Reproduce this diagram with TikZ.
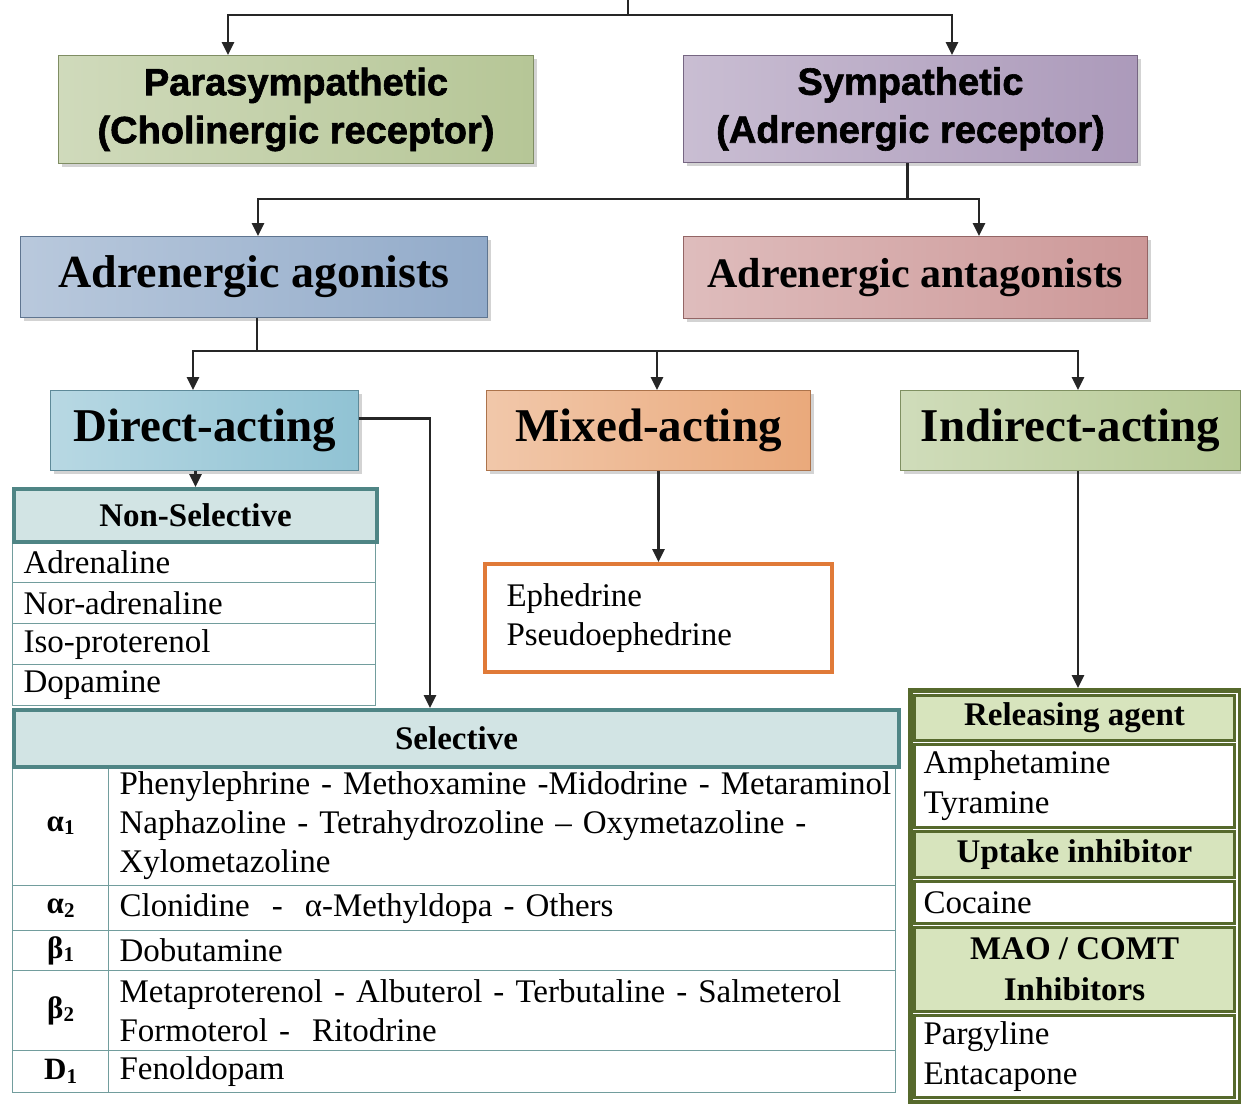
\documentclass[tikz,border=0pt]{standalone}
\usepackage{fontspec}
\setmainfont{Liberation Serif}
\newfontfamily\headsans[BoldFeatures={FakeBold=1.6}]{Liberation Sans}
\usetikzlibrary{arrows.meta,shadows}
\definecolor{cPara} {HTML}{A9BC84}
\definecolor{cSymp} {HTML}{9D88AE}
\definecolor{cAgon} {HTML}{7F9CC0}
\definecolor{cAnta} {HTML}{C48686}
\definecolor{cDir}  {HTML}{7DB8CC}
\definecolor{cMix}  {HTML}{E69A64}
\definecolor{cInd}  {HTML}{A9C082}
\definecolor{cTeal} {HTML}{4F8585}
\definecolor{cTealF}{HTML}{D2E4E4}
\definecolor{cOlive}{HTML}{56692C}
\definecolor{cOlivF}{HTML}{D7E4BD}
\definecolor{cOrng} {HTML}{E07A38}
\newcommand{\subidx}[1]{\raisebox{-0.25ex}{\fontsize{21}{21}\selectfont#1}}
\tikzset{
  grad/.style   ={draw=#1!75!black,line width=1pt,left color=#1!55,middle color=#1!12,
                  right color=#1!85,anchor=north west,inner sep=0pt,align=center,
                  drop shadow={opacity=0.35,shadow xshift=3pt,shadow yshift=-3pt}},
  sysbox/.style ={grad=#1,font=\headsans\bfseries\fontsize{38}{48}\selectfont},
  actbox/.style ={grad=#1,font=\bfseries\fontsize{47}{52}\selectfont},
  cell/.style   ={draw=cTeal!80,line width=1.2pt,anchor=north west,inner ysep=0pt,
                  font=\fontsize{33}{39}\selectfont},
  txtcell/.style={cell,align=left,inner xsep=11pt},
  tealhd/.style ={cell,draw=cTeal,line width=4pt,fill=cTealF,
                  font=\bfseries\fontsize{33}{39}\selectfont},
  olvhd/.style  ={draw=cOlive,line width=3pt,fill=cOlivF,anchor=north west,inner sep=0pt,
                  minimum width=320pt,align=center,font=\bfseries\fontsize{33}{41}\selectfont},
  olvcell/.style={draw=cOlive,line width=3pt,fill=white,anchor=north west,inner xsep=9pt,
                  inner ysep=0pt,text width=302pt,align=left,font=\fontsize{33}{40}\selectfont},
  link/.style   ={draw=black!85,line width=2.6pt},
  feed/.style   ={link,-{Triangle[length=13pt,width=12pt]}},
}

\begin{document}
\begin{tikzpicture}[x=1pt,y=-1pt]
\useasboundingbox (0,0) rectangle (1241,1103);

% ---- receptor split ------------------------------------------------------
\node[sysbox=cPara,minimum width=475pt,minimum height=108pt] (para) at (58,55)
  {Parasympathetic\\(Cholinergic receptor)};
\node[sysbox=cSymp,minimum width=454pt,minimum height=107pt] (symp) at (683,55)
  {Sympathetic\\(Adrenergic receptor)};

\coordinate (root)   at (628,0);
\coordinate (split1) at (628,15);
\draw[link] (root) -- (split1);
\draw[feed] (split1) -| ([xshift=170pt]para.north west);
\draw[feed] (split1) -| ([xshift=269pt]symp.north west);

% ---- agonists / antagonists ----------------------------------------------
\node[actbox=cAgon,minimum width=467pt,minimum height=81pt,
      font=\bfseries\fontsize{46}{50}\selectfont] (agon) at (20,236) {Adrenergic agonists};
\node[actbox=cAnta,minimum width=464pt,minimum height=82pt,
      font=\bfseries\fontsize{42}{46}\selectfont] (anta) at (683,236) {Adrenergic antagonists};

\draw[link] ([xshift=-3pt]symp.south) -- ++(0,36) coordinate (split2);
\draw[feed] (split2) -| ([xshift=238pt]agon.north west);
\draw[feed] (split2) -| ([xshift=296pt]anta.north west);

% ---- mode of action ------------------------------------------------------
\node[actbox=cDir,minimum width=308pt,minimum height=80pt] (direct) at (50,390) {Direct-acting};
\node[actbox=cMix,minimum width=324pt,minimum height=80pt] (mixed) at (486,390) {Mixed-acting};
\node[actbox=cInd,minimum width=340pt,minimum height=80pt] (indirect) at (900,390) {Indirect-acting};

\draw[link] ([xshift=237pt]agon.south west) -- ++(0,33) coordinate (split3);
\draw[feed] (split3) -| ([xshift=143pt]direct.north west);
\draw[feed] (split3) -| ([xshift=171pt]mixed.north west);
\draw[feed] (split3) -| ([xshift=178pt]indirect.north west);

% ---- direct-acting: non-selective ----------------------------------------
\foreach \drug [count=\i] in {Adrenaline,Nor-adrenaline,Iso-proterenol,Dopamine}{
  \node[txtcell,text width=341pt,minimum height=41pt] (ns\i) at (12,{541+(\i-1)*41}) {\drug};
}
\node[tealhd,minimum width=363pt,minimum height=53pt] (nonsel) at (12,487) {Non-Selective};
\draw[feed] (nonsel.north |- direct.south) -- (nonsel.north);

% ---- direct-acting: selective --------------------------------------------
% {receptor}/{drugs}/{top}/{height}
\foreach \lab/\drugs/\y/\h [count=\i] in {%
  {α\subidx{1}}/{\mbox{Phenylephrine - Methoxamine -Midodrine - Metaraminol}\\
     \mbox{Naphazoline - Tetrahydrozoline – Oxymetazoline -}\\Xylometazoline}/765/120,
  {α\subidx{2}}/{\mbox{Clonidine \ - \ α-Methyldopa - Others}}/885/45,
  {β\subidx{1}}/{Dobutamine}/930/40,
  {β\subidx{2}}/{\mbox{Metaproterenol - Albuterol - Terbutaline - Salmeterol}\\
     \mbox{Formoterol - \ Ritodrine}}/970/80,
  {D\subidx{1}}/{Fenoldopam}/1050/42}{%
  \node[cell,minimum width=96pt,minimum height=\h pt,
        font=\bfseries\fontsize{31}{39}\selectfont] (sr\i) at (12,\y) {\lab};
  \node[txtcell,text width=765pt,minimum height=\h pt] (sd\i) at (108,\y) {\drugs};
}
\node[tealhd,minimum width=885pt,minimum height=57pt] (sel) at (12,708) {Selective};
\draw[feed] ([yshift=12pt]direct.east) -| ([xshift=418pt]sel.north west);

% ---- mixed-acting --------------------------------------------------------
\node[draw=cOrng,line width=4pt,anchor=north west,minimum height=108pt,text width=304pt,
      inner xsep=21.5pt,align=left,font=\fontsize{33}{39}\selectfont] (eph) at (483,562)
  {Ephedrine\\Pseudoephedrine};
\draw[feed] (eph.north |- mixed.south) -- (eph.north);

% ---- indirect-acting -----------------------------------------------------
\node[draw=cOlive,line width=4.5pt,anchor=north west,minimum width=330pt,
      minimum height=412pt,inner sep=0pt] (indir) at (908,688) {};
\draw[feed] ([xshift=178pt]indirect.south west) -- ([xshift=170pt]indir.north west);

\node[olvhd,minimum height=45pt]   (relh) at (913,694)  {Releasing agent};
\node[olvcell,minimum height=83pt] (rel)  at (913,743)  {Amphetamine\\Tyramine};
\node[olvhd,minimum height=46pt]   (upth) at (913,830)  {Uptake inhibitor};
\node[olvcell,minimum height=42pt] (upt)  at (913,880)  {Cocaine};
\node[olvhd,minimum height=84pt]   (maoh) at (913,926)  {MAO / COMT\\Inhibitors};
\node[olvcell,minimum height=82pt] (mao)  at (913,1014) {Pargyline\\Entacapone};
\end{tikzpicture}
\end{document}
